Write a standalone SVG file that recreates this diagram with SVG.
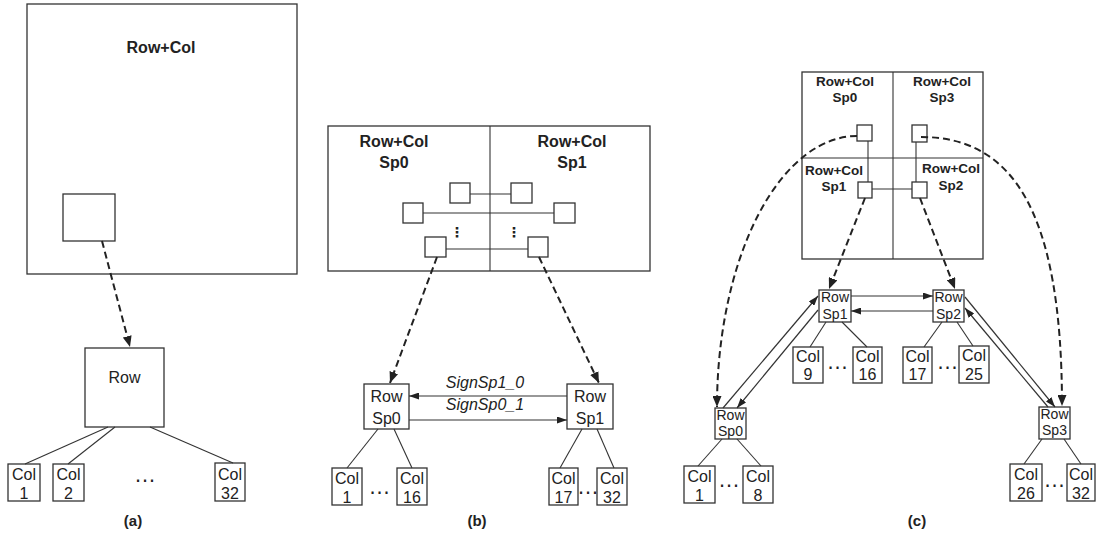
<svg xmlns="http://www.w3.org/2000/svg" width="1096" height="533" viewBox="0 0 1096 533">
<defs>
<marker id="ah" markerUnits="userSpaceOnUse" markerWidth="11" markerHeight="9" refX="11" refY="4.5" orient="auto"><path d="M0,0 L11,4.5 L0,9 z" fill="#222"/></marker>
<marker id="ahs" markerUnits="userSpaceOnUse" markerWidth="10" markerHeight="7" refX="10" refY="3.5" orient="auto"><path d="M0,0 L10,3.5 L0,7 z" fill="#222"/></marker>
</defs>
<style>
.box{fill:#fff;stroke:#333;stroke-width:1.3}
.ln{stroke:#333;stroke-width:1.1;fill:none}
.arr{stroke:#333;stroke-width:1.2;fill:none;marker-end:url(#ahs)}
.dash{stroke:#222;stroke-width:2;stroke-dasharray:7,4;fill:none;marker-end:url(#ah)}
text{font-family:"Liberation Sans",Arial,sans-serif;fill:#222;text-anchor:middle}
.hb{font-weight:bold;font-size:16px}
.hc{font-weight:bold;font-size:13.5px}
.t16{font-size:16px}
.t15{font-size:15px}
.t14{font-size:14px}
.cap{font-weight:bold;font-size:15px}
.sig{font-style:italic;font-size:16px}
.vd{font-family:"DejaVu Sans",sans-serif;font-size:14px;font-weight:bold}
.hd{font-size:22px}
</style>

<!-- (a) -->
<g id="a-rowcol">
<rect class="box" x="27" y="4" width="270" height="270"/>
<text class="hb" x="161" y="53">Row+Col</text>
<rect class="box" x="63" y="194" width="52" height="47"/>
</g>
<g id="a-row">
<rect class="box" x="85" y="348" width="79" height="79"/>
<text class="t16" x="124.5" y="383">Row</text>
</g>
<g id="a-col1"><rect class="box" x="8" y="464" width="32" height="37"/><text class="t16" x="24" y="480">Col</text><text class="t16" x="24" y="499">1</text></g>
<g id="a-col2"><rect class="box" x="53" y="464" width="31" height="37"/><text class="t16" x="68.5" y="480">Col</text><text class="t16" x="68.5" y="499">2</text></g>
<g id="a-col32"><rect class="box" x="215" y="463" width="30" height="38"/><text class="t16" x="230" y="480">Col</text><text class="t16" x="230" y="499">32</text></g>
<text class="hd" x="145" y="482">…</text>
<text class="cap" x="133" y="526">(a)</text>

<!-- (b) -->
<g id="b-rowcol">
<rect class="box" x="328" y="126" width="322" height="145"/>
<line class="ln" x1="490" y1="126" x2="490" y2="271"/>
<text class="hb" x="394" y="147">Row+Col</text>
<text class="hb" x="394" y="168">Sp0</text>
<text class="hb" x="572" y="147">Row+Col</text>
<text class="hb" x="572" y="168">Sp1</text>
<line class="ln" x1="470" y1="194" x2="511" y2="194"/>
<line class="ln" x1="423" y1="213" x2="554" y2="213"/>
<line class="ln" x1="446" y1="249" x2="528" y2="249"/>
<rect class="box" x="450" y="183" width="20" height="20"/>
<rect class="box" x="511" y="183" width="21" height="20"/>
<rect class="box" x="403" y="203" width="20" height="20"/>
<rect class="box" x="554" y="203" width="21" height="20"/>
<rect class="box" x="425" y="237" width="21" height="20"/>
<rect class="box" x="528" y="237" width="20" height="20"/>
<text class="vd" x="457" y="237">⋮</text>
<text class="vd" x="514" y="237">⋮</text>
</g>
<g id="b-rowsp0"><rect class="box" x="364" y="384" width="45" height="45"/><text class="t16" x="386.5" y="402">Row</text><text class="t16" x="386.5" y="424">Sp0</text></g>
<g id="b-rowsp1"><rect class="box" x="567" y="384" width="46" height="45"/><text class="t16" x="590" y="402">Row</text><text class="t16" x="590" y="424">Sp1</text></g>
<g id="b-col1"><rect class="box" x="332" y="468" width="30" height="37"/><text class="t16" x="347" y="484">Col</text><text class="t16" x="347" y="503">1</text></g>
<g id="b-col16"><rect class="box" x="397" y="468" width="30" height="37"/><text class="t16" x="412" y="484">Col</text><text class="t16" x="412" y="503">16</text></g>
<g id="b-col17"><rect class="box" x="549" y="468" width="29" height="37"/><text class="t16" x="563.5" y="484">Col</text><text class="t16" x="563.5" y="503">17</text></g>
<g id="b-col32"><rect class="box" x="597" y="468" width="30" height="37"/><text class="t16" x="612" y="484">Col</text><text class="t16" x="612" y="503">32</text></g>
<text class="hd" x="379.5" y="494">…</text>
<text class="hd" x="588" y="494">…</text>
<text class="sig" x="485" y="388">SignSp1_0</text>
<text class="sig" x="485" y="410">SignSp0_1</text>
<text class="cap" x="477" y="526">(b)</text>

<!-- (c) -->
<g id="c-rowcol">
<rect class="box" x="802" y="72" width="181" height="187"/>
<line class="ln" x1="893" y1="72" x2="893" y2="259"/>
<line class="ln" x1="802" y1="158" x2="983" y2="158"/>
<text class="hc" x="845" y="86">Row+Col</text>
<text class="hc" x="845" y="102">Sp0</text>
<text class="hc" x="942" y="86">Row+Col</text>
<text class="hc" x="942" y="102">Sp3</text>
<text class="hc" x="834" y="175">Row+Col</text>
<text class="hc" x="834" y="191">Sp1</text>
<text class="hc" x="951" y="173">Row+Col</text>
<text class="hc" x="951" y="190">Sp2</text>
<line class="ln" x1="868" y1="141" x2="868" y2="182"/>
<line class="ln" x1="916" y1="142" x2="916" y2="182"/>
<line class="ln" x1="872" y1="189" x2="912" y2="189"/>
<rect class="box" x="857" y="125" width="15" height="16"/>
<rect class="box" x="858" y="182" width="14" height="16"/>
<rect class="box" x="912" y="125" width="15" height="17"/>
<rect class="box" x="912" y="182" width="15" height="16"/>
</g>
<g id="c-rowsp1"><rect class="box" x="819" y="290" width="32" height="32"/><text class="t14" x="835" y="302">Row</text><text class="t14" x="835" y="319">Sp1</text></g>
<g id="c-rowsp2"><rect class="box" x="933" y="290" width="31" height="32"/><text class="t14" x="948.5" y="302">Row</text><text class="t14" x="948.5" y="319">Sp2</text></g>
<g id="c-rowsp0"><rect class="box" x="715" y="408" width="31" height="31"/><text class="t14" x="730.5" y="420">Row</text><text class="t14" x="730.5" y="436">Sp0</text></g>
<g id="c-rowsp3"><rect class="box" x="1039" y="407" width="31" height="32"/><text class="t14" x="1054.5" y="419">Row</text><text class="t14" x="1054.5" y="435">Sp3</text></g>
<g id="c-col9"><rect class="box" x="793" y="347" width="30" height="36"/><text class="t16" x="808" y="362">Col</text><text class="t16" x="808" y="380">9</text></g>
<g id="c-col16"><rect class="box" x="853" y="347" width="29" height="36"/><text class="t16" x="867.5" y="362">Col</text><text class="t16" x="867.5" y="380">16</text></g>
<g id="c-col17"><rect class="box" x="903" y="347" width="29" height="36"/><text class="t16" x="917.5" y="362">Col</text><text class="t16" x="917.5" y="380">17</text></g>
<g id="c-col25"><rect class="box" x="959" y="346" width="30" height="37"/><text class="t16" x="974" y="361">Col</text><text class="t16" x="974" y="380">25</text></g>
<g id="c-col1"><rect class="box" x="684" y="466" width="31" height="37"/><text class="t16" x="699.5" y="482">Col</text><text class="t16" x="699.5" y="501">1</text></g>
<g id="c-col8"><rect class="box" x="743" y="466" width="30" height="37"/><text class="t16" x="758" y="482">Col</text><text class="t16" x="758" y="501">8</text></g>
<g id="c-col26"><rect class="box" x="1010" y="464" width="32" height="37"/><text class="t16" x="1026" y="480">Col</text><text class="t16" x="1026" y="499">26</text></g>
<g id="c-col32"><rect class="box" x="1067" y="464" width="28" height="37"/><text class="t16" x="1081" y="480">Col</text><text class="t16" x="1081" y="499">32</text></g>
<text class="hd" x="837.5" y="369">…</text>
<text class="hd" x="947.5" y="369">…</text>
<text class="hd" x="729" y="487">…</text>
<text class="hd" x="1054.5" y="487">…</text>
<text class="cap" x="917" y="526">(c)</text>

<!-- connectors -->
<g id="connectors">
<path class="dash" d="M102,241 L130,347"/>
<line class="ln" x1="108" y1="427" x2="25" y2="464"/>
<line class="ln" x1="115" y1="427" x2="68" y2="464"/>
<line class="ln" x1="150" y1="427" x2="233" y2="463"/>

<path class="dash" d="M437,257 L390,383"/>
<path class="dash" d="M539,257 L599,383"/>
<line class="arr" x1="567" y1="396" x2="409" y2="396"/>
<line class="arr" x1="409" y1="420" x2="567" y2="420"/>
<line class="ln" x1="378" y1="429" x2="347" y2="468"/>
<line class="ln" x1="394" y1="429" x2="412" y2="468"/>
<line class="ln" x1="582" y1="429" x2="560" y2="468"/>
<line class="ln" x1="597" y1="429" x2="614" y2="468"/>

<path class="dash" d="M857,136 A140,271 0 0 0 717,407"/>
<path class="dash" d="M921,137 C1011,137 1062,208 1062,406"/>
<path class="dash" d="M865,198 L829,289"/>
<path class="dash" d="M920,198 L955,289"/>
<line class="arr" x1="851" y1="296" x2="933" y2="296"/>
<line class="arr" x1="933" y1="311" x2="851" y2="311"/>
<line class="arr" x1="723" y1="408" x2="818" y2="296"/>
<line class="arr" x1="818" y1="310" x2="737" y2="408"/>
<line class="arr" x1="965" y1="297" x2="1055" y2="407"/>
<line class="arr" x1="1048" y1="407" x2="965" y2="308"/>
<line class="ln" x1="826" y1="322" x2="810" y2="347"/>
<line class="ln" x1="842" y1="322" x2="867" y2="347"/>
<line class="ln" x1="942" y1="322" x2="924" y2="347"/>
<line class="ln" x1="957" y1="322" x2="973" y2="346"/>
<line class="ln" x1="722" y1="439" x2="698" y2="466"/>
<line class="ln" x1="737" y1="439" x2="761" y2="466"/>
<line class="ln" x1="1042" y1="439" x2="1024" y2="464"/>
<line class="ln" x1="1064" y1="439" x2="1081" y2="464"/>
</g>
</svg>
